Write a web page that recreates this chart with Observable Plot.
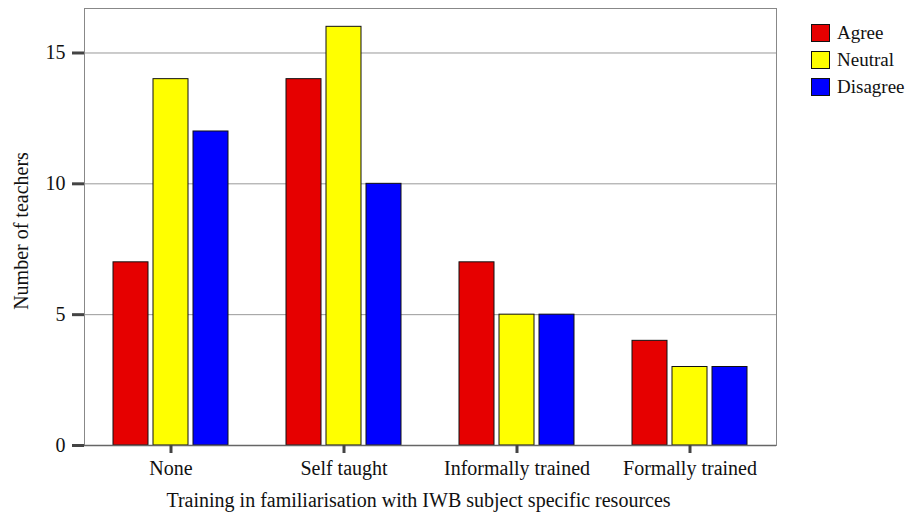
<!DOCTYPE html>
<html>
<head>
<meta charset="utf-8">
<script src="https://cdn.jsdelivr.net/npm/d3@7"></script>
<script src="https://cdn.jsdelivr.net/npm/@observablehq/plot@0.6"></script>
<style>
  html, body { margin: 0; padding: 0; background: white; }
  #wrap { position: relative; width: 908px; height: 519px; font-family: "Liberation Serif", "Times New Roman", serif; }
  #legend { position: absolute; left: 811px; top: 19px; font-size: 19px; color: #111; }
  .row { display: flex; align-items: center; height: 27px; }
  .sw { width: 17px; height: 16px; border: 1px solid #111; margin-right: 7px; }
</style>
</head>
<body>
<div id="wrap"><div id="legend"></div></div>
<script>
const categories = ["None", "Self taught", "Informally trained", "Formally trained"];
const responses = ["Agree", "Neutral", "Disagree"];
const agree = [7, 14, 7, 4];
const neutral = [14, 16, 5, 3];
const disagree = [12, 10, 5, 3];
const colors = ["#e60000", "#ffff00", "#0000ff"];
const yTicks = [0, 5, 10, 15];
const xTitle = "Training in familiarisation with IWB subject specific resources";
const yTitle = "Number of teachers";

const series = [agree, neutral, disagree];
const data = categories.flatMap((c, i) =>
  responses.map((r, j) => ({category: c, response: r, value: series[j][i]})));

const chart = Plot.plot({
  width: 908,
  height: 519,
  marginLeft: 84,
  marginRight: 132,
  marginTop: 8,
  marginBottom: 74,
  style: {fontFamily: "'Liberation Serif', 'Times New Roman', serif", fontSize: "20px", background: "white", color: "#111"},
  fx: {domain: categories, padding: 0, label: null},
  x: {domain: responses, paddingInner: 0.13, paddingOuter: 0.69, axis: null},
  y: {domain: [0, 16.7], label: null},
  color: {domain: responses, range: colors},
  marks: [
    Plot.gridY(yTicks.slice(1), {stroke: "#999", strokeOpacity: 1}),
    Plot.frame({facet: "super", stroke: "#888"}),
    Plot.barY(data, {fx: "category", x: "response", y: "value", fill: "response", stroke: "#111", strokeWidth: 1}),
    Plot.ruleY([0], {stroke: "#666", strokeWidth: 1.5}),
    Plot.axisY(yTicks, {tickSize: 12, tickPadding: 7, stroke: "#444", strokeWidth: 3, fontSize: 20, label: null}),
    Plot.axisFx({anchor: "bottom", tickSize: 8, tickPadding: 7, stroke: "#444", strokeWidth: 3, fontSize: 20, label: null}),
    Plot.text([yTitle], {facet: "super", frameAnchor: "left", textAnchor: "middle", rotate: -90, dx: -63, dy: 4, fontSize: 20, fill: "#111"}),
    Plot.text([xTitle], {facet: "super", frameAnchor: "bottom", textAnchor: "middle", dy: 61, dx: -12, fontSize: 20, fill: "#111"})
  ]
});
document.getElementById("wrap").prepend(chart);

const legend = document.getElementById("legend");
responses.forEach((r, i) => {
  const row = document.createElement("div");
  row.className = "row";
  const sw = document.createElement("div");
  sw.className = "sw";
  sw.style.background = colors[i];
  const t = document.createElement("span");
  t.textContent = r;
  row.append(sw, t);
  legend.append(row);
});
</script>
</body>
</html>
